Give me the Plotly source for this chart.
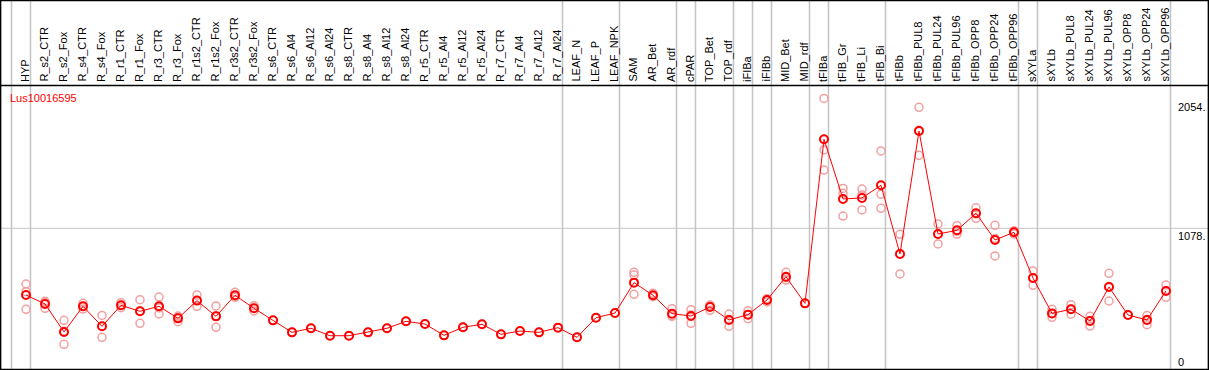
import plotly.graph_objects as go

gene = "Lus10016595"
categories = ["HYP", "R_s2_CTR", "R_s2_Fox", "R_s4_CTR", "R_s4_Fox", "R_r1_CTR", "R_r1_Fox",
              "R_r3_CTR", "R_r3_Fox", "R_r1s2_CTR", "R_r1s2_Fox", "R_r3s2_CTR", "R_r3s2_Fox",
              "R_s6_CTR", "R_s6_Al4", "R_s6_Al12", "R_s6_Al24", "R_s8_CTR", "R_s8_Al4",
              "R_s8_Al12", "R_s8_Al24", "R_r5_CTR", "R_r5_Al4", "R_r5_Al12", "R_r5_Al24",
              "R_r7_CTR", "R_r7_Al4", "R_r7_Al12", "R_r7_Al24", "LEAF_N", "LEAF_P", "LEAF_NPK",
              "SAM", "AR_Bet", "AR_rdf", "cPAR", "TOP_Bet", "TOP_rdf", "iFIBa", "iFIBb",
              "MID_Bet", "MID_rdf", "tFIBa", "tFIB_Gr", "tFIB_Li", "tFIB_Bi", "tFIBb",
              "tFIBb_PUL8", "tFIBb_PUL24", "tFIBb_PUL96", "tFIBb_OPP8", "tFIBb_OPP24",
              "tFIBb_OPP96", "sXYLa", "sXYLb", "sXYLb_PUL8", "sXYLb_PUL24", "sXYLb_PUL96",
              "sXYLb_OPP8", "sXYLb_OPP24", "sXYLb_OPP96"]

means = [540, 468, 242, 449, 288, 457, 409, 449, 352, 495, 368, 538, 433,
         336, 239, 272, 212, 212, 239, 272, 328, 306, 215, 280, 304, 223, 250, 239, 277,
         199, 357, 395, 640, 538, 390, 371, 444, 339, 382, 500, 688, 473,
         1796, 1315, 1323, 1425, 871, 1863, 1032, 1062, 1199, 984, 1046,
         677, 392, 425, 331, 605, 379, 339, 573]

rep1 = [629, 481, 336, 473, 376, 478, 503, 524, 371, 540, 452, 562, 454,
        336, 239, 272, 212, 212, 239, 272, 328, 306, 215, 280, 304, 223, 250, 239, 277,
        199, 357, 395, 723, 554, 430, 422, 457, 387, 414, 510, 723, 473,
        2126, 1400, 1395, 1702, 1030, 2054, 1113, 1099, 1244, 1102, 1059,
        734, 425, 462, 368, 715, 379, 374, 621]
rep2 = [567, 433, 143, 427, 199, 438, 312, 387, 325, 449, 280, 522, 433,
        None, None, None, None, None, None, None, None, None, None, None, None, None, None, None, None,
        None, None, None, 702, 527, 368, 312, 417, 288, 349, 484, 661, None,
        1710, 1360, 1347, 1352, 710, 1667, 952, 1032, 1159, 855, 1032,
        618, 360, 385, 290, 492, None, 301, 522]
rep3 = [425, 490, 247, 447, 289, 455, 412, 436, 360, 496, 372, 530, 412,
        None, None, None, None, None, None, None, None, None, None, None, None, None, None, None, None,
        None, None, None, 546, 533, 372, 379, 458, 342, 383, 500, 680, None,
        1548, 1177, 1226, 1239, 873, 1868, 1031, 1055, 1194, 995, 1047,
        679, 391, 428, 335, 608, None, 342, 576]

group_ends = [-1, 0, 28, 31, 34, 35, 37, 38, 39, 41, 42, 45, 52, 53, 60]
y_ticks = [0, 1078, 2054]
y_tick_text = ["0", "1078.", "2054."]

# ---- pixel geometry helpers ----
W, H = 1209, 370
X0PX, XSTEP = 26, 19          # pixel of first column, pixels per column
Y0PX, YK = 362, 0.124         # pixel of value 0, pixels per unit
xr0 = -X0PX / XSTEP
xr1 = xr0 + W / XSTEP
yr0 = -(H - Y0PX) / YK
yr1 = yr0 + H / YK

def yval(px):
    return (Y0PX - px) / YK

def xval(px):
    return xr0 + px / XSTEP

xs = list(range(len(categories)))
fig = go.Figure()

rep_color = "#f2a0a0"
for reps in (rep1, rep2, rep3):
    fig.add_trace(go.Scatter(x=xs, y=reps, mode="markers", showlegend=False,
                             marker=dict(symbol="circle-open", size=8, color=rep_color,
                                         line=dict(width=1.5, color=rep_color))))
fig.add_trace(go.Scatter(x=xs, y=means, mode="lines+markers", showlegend=False,
                         line=dict(color="#ff0000", width=1),
                         marker=dict(symbol="circle-open", size=8, color="#ff0000",
                                     line=dict(width=2, color="#ff0000"))))

shapes = []
gray = "#c4c4c4"
# horizontal grid line
shapes.append(dict(type="line", xref="paper", yref="y", x0=0, x1=1, y0=1078, y1=1078,
                   line=dict(color=gray, width=1), layer="below"))
# vertical group separators
for g in group_ends:
    xv = g + 4.5 / XSTEP
    shapes.append(dict(type="line", xref="x", yref="paper", x0=xv, x1=xv, y0=0, y1=1,
                       line=dict(color=gray, width=1.5), layer="below"))
# header separator line
shapes.append(dict(type="line", xref="paper", yref="y", x0=0, x1=1, y0=yval(85.5), y1=yval(85.5),
                   line=dict(color="black", width=1.5)))
# outer border
shapes.append(dict(type="rect", xref="paper", yref="paper", x0=0.0005, x1=0.9995, y0=0.0015, y1=0.9985,
                   line=dict(color="black", width=1.5)))

annotations = []
for i, c in enumerate(categories):
    annotations.append(dict(x=i, y=yval(84), xref="x", yref="y", text=c, textangle=-90,
                            showarrow=False, xanchor="center", yanchor="bottom", xshift=-1.5,
                            font=dict(family="Liberation Sans, Arial", size=11, color="black")))
annotations.append(dict(x=xval(8), y=yval(97.5), xref="x", yref="y", text=gene, showarrow=False,
                        xanchor="left", yanchor="middle",
                        font=dict(family="Liberation Sans, Arial", size=11, color="#ff0000")))
for v, t in zip(y_ticks, y_tick_text):
    annotations.append(dict(x=xval(1176), y=v, xref="x", yref="y", text=t, showarrow=False,
                            xanchor="left", yanchor="top" if v == 1078 else "middle",
                            font=dict(family="Liberation Sans, Arial", size=11, color="black")))

fig.update_layout(
    width=W, height=H, margin=dict(l=0, r=0, t=0, b=0),
    paper_bgcolor="white", plot_bgcolor="white",
    xaxis=dict(range=[xr0, xr1], visible=False, fixedrange=True),
    yaxis=dict(range=[yr0, yr1], visible=False, fixedrange=True),
    shapes=shapes, annotations=annotations, showlegend=False,
)
fig.write_html("out.html", config={"displayModeBar": False},
               post_script="document.body.style.margin='0';document.body.style.padding='0';"
                           "document.documentElement.style.overflow='hidden';")
